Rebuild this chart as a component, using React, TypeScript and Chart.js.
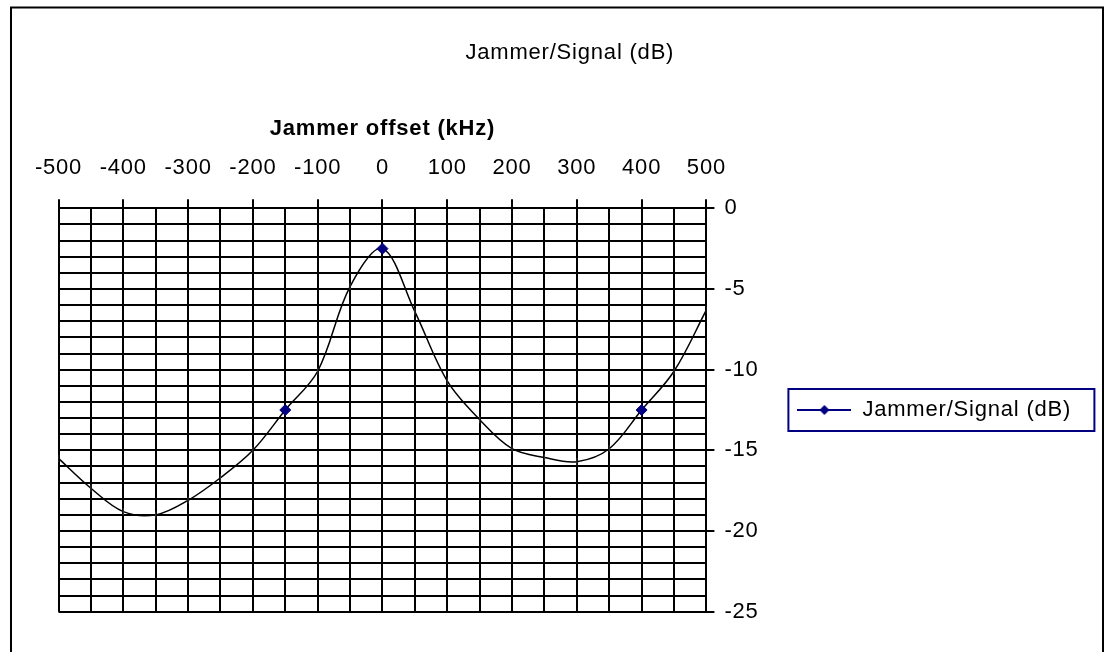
import React, { useEffect, useRef } from 'react';
import { Chart, registerables } from 'chart.js';

Chart.register(...registerables);

// ---- data ----
const offsetsKHz = [-500, -450, -400, -350, -300, -250, -200, -150, -100, -50, 0, 50, 100, 150, 200, 250, 300, 350, 400, 450, 500];
const jammerSignalDb = [-15.5, -17.35, -18.8, -19.0, -18.1, -16.7, -15.0, -12.5, -10.1, -4.85, -2.5, -6.4, -10.7, -13.1, -14.9, -15.45, -15.7, -14.9, -12.5, -10.1, -6.3];
const markerOffsets = [-150, 0, 400];
const xTickLabels = [-500, -400, -300, -200, -100, 0, 100, 200, 300, 400, 500];
const yTickLabels = [0, -5, -10, -15, -20, -25];
const seriesName = 'Jammer/Signal (dB)';
const xAxisTitle = 'Jammer offset (kHz)';

const FONT = '"Liberation Sans", Arial, Helvetica, sans-serif';
const NAVY = '#000080';

export default function App() {
  const ref = useRef<HTMLCanvasElement | null>(null);

  useEffect(() => {
    const canvas = ref.current;
    if (!canvas) return;

    // legend symbol: line with diamond
    const sym = document.createElement('canvas');
    sym.width = 54;
    sym.height = 14;
    const sc = sym.getContext('2d')!;
    sc.strokeStyle = NAVY;
    sc.lineWidth = 2;
    sc.beginPath();
    sc.moveTo(0, 7);
    sc.lineTo(54, 7);
    sc.stroke();
    sc.fillStyle = NAVY;
    sc.beginPath();
    sc.moveTo(27, 2);
    sc.lineTo(32, 7);
    sc.lineTo(27, 12);
    sc.lineTo(22, 7);
    sc.closePath();
    sc.fill();

    const spacing = '0.8px';
    const spacingPlugin = {
      id: 'spacing',
      beforeUpdate(chart: any) { chart.ctx.letterSpacing = spacing; },
      beforeDraw(chart: any) { chart.ctx.letterSpacing = spacing; },
    };
    const framePlugin = {
      id: 'frame',
      afterDraw(chart: any) {
        const ctx = chart.ctx;
        ctx.save();
        ctx.strokeStyle = '#000';
        ctx.lineWidth = 2;
        ctx.strokeRect(11, 7.5, 1092, 700);
        const hb = chart.legend && chart.legend.legendHitBoxes && chart.legend.legendHitBoxes[0];
        if (hb) {
          ctx.strokeStyle = NAVY;
          ctx.lineWidth = 2;
          const cy = hb.top + hb.height / 2;
          const w = Math.max(hb.width + 18, 306);
          ctx.strokeRect(hb.left - 9, cy - 21, w, 42);
        }
        ctx.restore();
      },
    };

    const isMarker = offsetsKHz.map((x) => markerOffsets.includes(x));
    const tickFont = { family: FONT, size: 22, weight: 'normal' as const, lineHeight: 1.2 };

    const chart = new Chart(canvas, {
      type: 'line',
      data: {
        datasets: [
          {
            label: seriesName,
            data: offsetsKHz.map((x, i) => ({ x, y: jammerSignalDb[i] })),
            borderColor: '#000',
            borderWidth: 1.5,
            tension: 0.35,
            fill: false,
            pointStyle: isMarker.map((m) => (m ? 'rectRot' : 'line')) as any,
            pointRotation: isMarker.map((m) => (m ? 0 : 90)),
            pointRadius: isMarker.map((m) => (m ? 5.5 : 3.5)),
            pointBackgroundColor: isMarker.map((m) => (m ? NAVY : '#333')),
            pointBorderColor: isMarker.map((m) => (m ? NAVY : '#333')),
            pointBorderWidth: isMarker.map((m) => (m ? 1 : 1.2)),
          },
        ],
      },
      options: {
        animation: false,
        responsive: false,
        maintainAspectRatio: false,
        events: [],
        layout: { padding: { top: 0, left: 58.5, right: 25.8, bottom: 40.3 } },
        plugins: {
          title: {
            display: true,
            text: seriesName,
            color: '#000',
            font: tickFont,
            padding: { top: 39.8, bottom: 49.6 },
          },
          legend: {
            position: 'right',
            align: 'center',
            fullSize: false,
            maxWidth: 400,
            labels: {
              usePointStyle: true,
              pointStyleWidth: 54,
              padding: 10,
              color: '#000',
              font: tickFont,
              generateLabels: () => [
                {
                  text: seriesName,
                  pointStyle: sym as any,
                  fillStyle: NAVY,
                  strokeStyle: NAVY,
                  lineWidth: 0,
                  hidden: false,
                  datasetIndex: 0,
                  fontColor: '#000',
                } as any,
              ],
            },
          },
          tooltip: { enabled: false },
        },
        scales: {
          x: {
            type: 'linear',
            position: 'top',
            min: -500,
            max: 500,
            ticks: {
              stepSize: 50,
              autoSkip: false,
              maxRotation: 0,
              minRotation: 0,
              padding: 18.1,
              color: '#000',
              font: tickFont,
              callback: (v: any) => (xTickLabels.includes(Number(v)) ? String(v) : ''),
            },
            grid: {
              color: '#000',
              lineWidth: 2,
              tickLength: 9,
              tickWidth: 2,
              tickColor: (c: any) => (c.tick && xTickLabels.includes(c.tick.value) ? '#000' : 'rgba(0,0,0,0)'),
            },
            border: { color: '#000', width: 2 },
            title: {
              display: true,
              text: xAxisTitle,
              color: '#000',
              font: { family: FONT, size: 22, weight: 'bold', lineHeight: 1.2 },
              padding: { top: 0, bottom: 0 },
            },
            afterFit: (s: any) => { s.height = 92.5; },
          },
          y: {
            type: 'linear',
            position: 'right',
            min: -25,
            max: 0,
            ticks: {
              stepSize: 1,
              autoSkip: false,
              padding: 10,
              color: '#000',
              font: tickFont,
              callback: (v: any) => (yTickLabels.includes(Number(v)) ? String(v) : ''),
            },
            grid: {
              color: '#000',
              lineWidth: 2,
              tickLength: 8,
              tickWidth: 2,
              tickColor: (c: any) => (c.tick && yTickLabels.includes(c.tick.value) ? '#000' : 'rgba(0,0,0,0)'),
            },
            border: { color: '#000', width: 2 },
            afterFit: (s: any) => { s.width = 81; },
          },
        },
      },
      plugins: [spacingPlugin, framePlugin],
    } as any);

    return () => chart.destroy();
  }, []);

  return (
    <div style={{ position: 'fixed', left: 0, top: 0, width: 1107, height: 652, overflow: 'hidden', background: '#fff' }}>
      <canvas ref={ref} width={1107} height={652} style={{ display: 'block', width: 1107, height: 652 }} />
    </div>
  );
}
